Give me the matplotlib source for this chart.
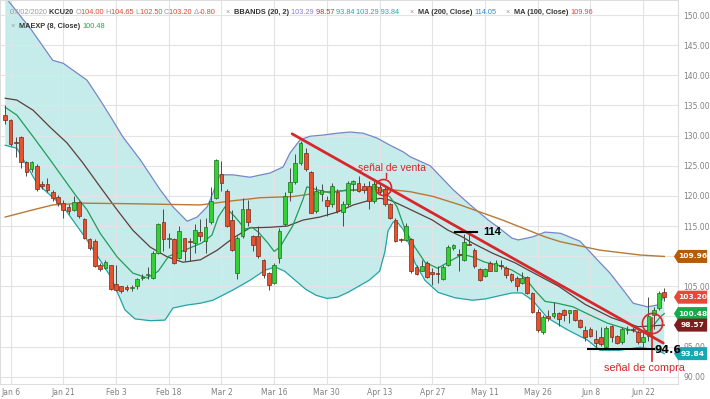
import matplotlib
matplotlib.use("Agg")
import matplotlib.pyplot as plt
import matplotlib.transforms as mtransforms
from matplotlib.patches import Polygon
import numpy as np

# --- KCU20 daily candles ---
opens = [133.5, 132.6, 128.9, 129.7, 125.6, 124.4, 125.0, 121.9, 121.9, 120.7,
         119.8, 118.8, 118.2, 117.7, 119.0, 116.1, 112.9, 112.5, 108.5, 108.1,
         108.5, 105.4, 105.0, 104.9, 104.7, 105.0, 106.4, 106.8, 106.4, 110.6,
         115.7, 112.8, 112.8, 109.7, 113.0, 112.6, 112.2, 114.0, 112.6, 115.6,
         119.7, 123.6, 120.8, 116.0, 107.2, 113.3, 117.8, 113.3, 113.3, 109.4,
         107.2, 105.6, 109.7, 115.3, 120.7, 122.3, 125.4, 127.2, 123.9, 117.5,
         120.4, 119.4, 118.6, 120.6, 117.4, 118.6, 121.9, 122.1, 121.6, 121.7,
         119.2, 121.4, 121.1, 118.7, 116.0, 112.8, 112.7, 112.8, 108.2, 107.6,
         108.9, 107.3, 107.2, 106.3, 108.6, 111.3, 110.4, 109.4, 112.1, 111.1,
         107.9, 106.7, 108.9, 107.6, 108.6, 108.0, 107.0, 106.4, 105.6, 106.5,
         103.9, 100.7, 97.4, 100.0, 100.0, 100.6, 101.0, 100.6, 101.0, 99.4,
         97.8, 97.9, 96.3, 96.6, 95.0, 98.5, 96.7, 95.7, 97.7, 98.0,
         97.4, 95.7, 96.8, 100.2, 101.4, 104.0]
highs = [135.0, 132.8, 129.7, 130.0, 125.8, 125.8, 125.3, 122.5, 122.9, 121.0,
         120.1, 119.4, 118.6, 120.0, 119.2, 116.4, 113.0, 112.8, 108.9, 109.4,
         108.6, 108.6, 105.1, 105.3, 105.2, 106.4, 107.0, 108.2, 110.8, 115.5,
         117.8, 113.9, 113.1, 115.0, 113.1, 113.1, 115.3, 116.1, 116.4, 121.4,
         126.1, 125.8, 121.1, 117.6, 113.3, 119.7, 119.3, 113.5, 115.0, 109.6,
         107.4, 108.8, 114.7, 120.6, 124.7, 127.0, 129.1, 128.0, 124.1, 121.7,
         121.9, 120.0, 122.1, 121.1, 119.2, 122.5, 122.6, 123.3, 122.2, 122.5,
         122.5, 121.9, 121.4, 118.9, 116.3, 113.1, 115.5, 113.1, 108.6, 109.4,
         109.2, 108.1, 108.4, 108.6, 111.9, 112.0, 111.2, 113.7, 113.9, 111.3,
         108.1, 108.1, 109.2, 109.4, 109.4, 108.3, 107.2, 106.7, 107.3, 106.7,
         104.1, 101.3, 100.2, 101.0, 102.4, 100.8, 101.3, 101.1, 101.1, 99.6,
         98.5, 98.2, 97.7, 98.2, 98.4, 98.6, 96.9, 98.2, 98.5, 98.3,
         97.7, 97.7, 103.2, 101.6, 104.3, 104.65]
lows = [131.9, 128.3, 126.4, 124.7, 123.3, 124.0, 120.8, 121.1, 120.6, 119.2,
        118.3, 116.4, 117.0, 117.5, 116.4, 112.8, 111.1, 108.2, 107.5, 107.8,
        104.4, 104.2, 103.9, 104.2, 104.3, 104.6, 106.0, 106.3, 106.2, 110.3,
        110.8, 111.4, 108.7, 109.6, 109.2, 109.2, 110.6, 112.5, 110.6, 115.3,
        119.5, 120.8, 114.8, 110.8, 106.3, 113.0, 115.0, 110.8, 109.7, 106.4,
        104.4, 105.4, 108.9, 115.0, 119.2, 121.9, 125.2, 124.2, 117.1, 117.2,
        119.2, 116.7, 118.2, 117.2, 115.0, 118.3, 120.8, 120.7, 120.5, 117.8,
        118.9, 120.3, 118.3, 116.1, 112.4, 112.3, 112.5, 107.2, 106.9, 107.5,
        106.4, 105.3, 105.6, 106.1, 108.3, 111.1, 107.5, 109.2, 111.8, 108.1,
        105.9, 106.5, 107.5, 107.5, 107.8, 106.4, 105.8, 104.2, 105.4, 103.7,
        100.5, 97.5, 97.1, 99.3, 99.8, 98.5, 99.3, 99.0, 99.3, 98.1,
        95.9, 96.6, 94.7, 95.1, 94.8, 95.8, 95.4, 95.5, 97.1, 97.5,
        95.4, 94.9, 96.0, 98.0, 101.0, 102.5]
closes = [132.6, 128.6, 128.8, 125.6, 123.9, 125.6, 121.1, 121.6, 120.9, 119.6,
          118.8, 117.6, 117.5, 119.0, 116.6, 113.1, 111.4, 108.4, 107.8, 109.1,
          104.6, 104.4, 104.2, 104.5, 104.9, 106.2, 106.6, 107.1, 110.6, 115.3,
          112.8, 113.1, 108.9, 114.2, 110.8, 112.4, 114.4, 113.3, 114.8, 119.2,
          125.9, 122.2, 115.0, 111.1, 113.1, 117.9, 115.6, 111.9, 110.0, 106.9,
          105.3, 108.6, 114.2, 120.0, 122.3, 125.4, 128.7, 124.4, 117.2, 120.8,
          120.9, 118.3, 121.7, 117.5, 118.7, 122.2, 122.4, 120.8, 120.9, 119.2,
          122.0, 120.6, 118.6, 116.4, 112.6, 112.7, 115.0, 107.5, 107.1, 108.4,
          106.5, 107.1, 107.0, 108.2, 111.5, 111.8, 110.2, 112.4, 111.9, 108.3,
          106.1, 107.8, 107.6, 108.8, 108.3, 106.8, 106.1, 105.0, 106.4, 103.9,
          100.7, 97.8, 99.9, 99.7, 100.6, 99.6, 100.3, 101.0, 99.4, 98.2,
          96.6, 96.8, 95.6, 95.4, 98.1, 96.6, 95.6, 97.9, 98.0, 97.8,
          95.7, 96.6, 100.1, 101.0, 103.9, 103.2]

# --- indicator lines (at candle positions) ---
bb_up_x = [0, 5, 9, 11, 15.5, 18, 20, 22.3, 25.6, 29.4, 31.8, 34.5, 36.4, 38.3,
           39.4, 40.7, 43.2, 46.4, 50.2, 52.7, 54, 55.9, 57.8, 60.3, 62.9, 65.4,
           67.9, 70.5, 73, 75.5, 76.8, 80.6, 85, 88.2, 91.6, 93.5, 96.1, 97.3,
           100, 102.4, 105.3, 109, 112.3, 114.7, 117.2, 119.1, 121.8, 123.7, 125]
bb_up_y = [153, 147.5, 142.5, 142, 139.2, 135.9, 133.1, 129.8, 126, 121, 118.2,
           115.8, 116.5, 118.2, 120.5, 123.5, 123.5, 123.1, 123.8, 124.8, 127.1,
           129.3, 129.9, 130.1, 130.4, 130.6, 130.4, 129.6, 128.4, 127.3, 126.5,
           125, 121, 118.5, 116, 114.8, 113, 112.7, 113.2, 114, 113.8, 112.5,
           109.4, 107.2, 104.4, 102.2, 101.6, 101.9, 103.3]
bb_lo_x = [0, 2.2, 6, 11, 15.5, 20, 22.7, 24.6, 27.5, 30.3, 31.8, 34.5, 37,
           39.4, 43.2, 46.4, 49.3, 51.2, 53, 55, 57, 59, 61, 63, 65, 67, 69,
           71, 72, 72.6, 73.6, 74.5, 75.5, 76.8, 77.7, 79.6, 82.1, 85.3, 88.6,
           91, 93.5, 96.1, 98, 100, 102.8, 106.6, 110.4, 112.8, 116.5, 120.4,
           123.7, 125]
bb_lo_y = [128.4, 127.9, 122.1, 118.2, 112.7, 106.6, 101.1, 99.6, 99.3, 99.4,
           101.4, 101.9, 102.2, 102.7, 104.4, 106, 107.7, 108.2, 107.5, 106,
           104.5, 103.5, 103, 103.2, 104, 105, 106, 107.5, 110.7, 114.2, 115.7,
           115.5, 114.4, 111.5, 108.9, 106, 104, 103.1, 102.7, 102.9, 103.4,
           103.9, 103.9, 102.7, 99.8, 97.8, 96.1, 94.4, 94.4, 94.9, 94.4, 93.84]
bb_mid_x = [0, 2.2, 5.3, 8.5, 11.7, 14.7, 18, 21.2, 24.2, 27.5, 30.7, 33.7, 37,
            40.2, 43.2, 46.4, 50.2, 53.5, 56.5, 59.7, 62.9, 66, 69.2, 71.1, 73,
            75.5, 81, 84, 86.7, 88.6, 92.4, 96.7, 99.2, 105, 110, 115, 120, 125]
bb_mid_y = [136.2, 135.9, 134.2, 131.4, 128.8, 125.5, 121.5, 117.7, 114.3,
            111.5, 109.9, 109, 109.4, 111, 113, 114.7, 114.8, 115, 116, 116.5,
            117.3, 118.5, 119.3, 119.6, 119.3, 118.3, 116, 114.3, 113.2, 112.2,
            110.5, 108.9, 107.7, 105, 102, 99.8, 98.3, 98.57]
ema_x = [0, 2.2, 5.3, 8.5, 11.7, 13.6, 15.5, 18, 21.2, 24.2, 26.9, 29, 31, 34,
         37.3, 39.2, 40.4, 41.7, 43.6, 45.5, 46.8, 48, 49.8, 51, 52.1, 54.5,
         56.5, 57.2, 59.2, 61.6, 64.8, 67.9, 70.5, 73, 74.3, 75.8, 77.7, 79.6,
         82, 84.8, 86.7, 88.6, 91, 93.5, 96.1, 98.6, 100.5, 102.4, 104.7,
         107.7, 111, 114.2, 117.2, 120.4, 122.3, 124.2, 125]
ema_y = [134.7, 133.4, 129.8, 126, 122.1, 119.8, 117.7, 113.8, 109.9, 107.2,
         106.4, 107.5, 110, 111, 112.2, 113.5, 116.5, 118.2, 116.5, 114.5,
         114.8, 114, 112.2, 110.8, 111.5, 115, 119.5, 121.5, 121, 120.5, 121,
         121, 121.5, 119.8, 118.2, 114.5, 111.5, 109, 108, 109.4, 110.3, 109.9,
         109, 108.5, 107.7, 106.4, 104.3, 102.5, 102.2, 101.6, 100.2, 98.9,
         98.1, 97.3, 97.8, 99.9, 100.48]
ma100_x = [0, 5.3, 9, 14.7, 24.2, 37, 43.2, 46.4, 48.3, 54.6, 61, 67.3, 73.6,
           76.8, 81.2, 86.3, 94.3, 102.4, 105.3, 112.8, 120.4, 125]
ma100_y = [116.5, 117.7, 118.5, 118.8, 118.7, 118.5, 119.2, 119.5, 119.7,
           119.9, 120.7, 121, 121, 120.7, 119.9, 118.5, 116, 113.2, 112.4, 111,
           110.2, 109.96]

tick_labels = ["Jan 6", "Jan 21", "Feb 3", "Feb 18", "Mar 2", "Mar 16", "Mar 30",
               "Apr 13", "Apr 27", "May 11", "May 26", "Jun 8", "Jun 22"]
price_ticks = [90, 95, 100, 105, 110, 115, 120, 125, 130, 135, 140, 145, 150]
hidden_ticks = [100, 110]   # covered by the price tags in the original
tags = [(109.96, "#b35c0a"), (103.20, "#e8473b"), (100.48, "#1aa84b"),
        (98.57, "#7d1d1d"), (93.84, "#19a8b3")]

# trend line and marked levels
trend_x = [54.4, 124.8]
trend_y = [130.3, 95.6]

W, H = 710, 399
fig = plt.figure(figsize=(W / 100, H / 100), dpi=100)
ax = fig.add_axes([0, 1 - 384 / H, 678 / W, 384 / H])
ax.set_xlim(-1.0, 127.6)
ax.set_ylim(88.8, 152.5)

# grid
ax.set_axisbelow(True)
ax.grid(True, color="#e3e3e3", lw=0.8)
for s in ax.spines.values():
    s.set_color("#dddddd")
    s.set_linewidth(0.8)

# bollinger fill
ax.fill(np.r_[bb_up_x, bb_lo_x[::-1]], np.r_[bb_up_y, bb_lo_y[::-1]],
        color="#c6ebeb", lw=0, zorder=0.3)
ax.plot(bb_up_x, bb_up_y, color="#7886c8", lw=0.9, zorder=2)
ax.plot(bb_lo_x, bb_lo_y, color="#22a3a3", lw=0.9, zorder=2)
ax.plot(bb_mid_x, bb_mid_y, color="#5b3f3c", lw=0.9, zorder=2)
ax.plot(ma100_x, ma100_y, color="#b57a35", lw=1.0, zorder=2)
ax.plot(ema_x, ema_y, color="#1e9e58", lw=0.9, zorder=2)

# candles
o = np.array(opens); c = np.array(closes)
hi = np.array(highs); lo = np.array(lows)
xs = np.arange(len(o))
up = c >= o
ax.vlines(xs, lo, hi, color="#4a4a4a", lw=0.7, zorder=3)
body_lo = np.minimum(o, c)
body_h = np.maximum(np.abs(c - o), 0.15)
ax.bar(xs[up], body_h[up], bottom=body_lo[up], width=0.7,
       color="#33d133", edgecolor="#1c6e1c", lw=0.5, zorder=4)
ax.bar(xs[~up], body_h[~up], bottom=body_lo[~up], width=0.7,
       color="#e4522f", edgecolor="#7e2614", lw=0.5, zorder=4)

# annotations
red = "#d8262b"
ax.plot(trend_x, trend_y, color=red, lw=2.0, zorder=5, solid_capstyle="round")
ax.plot([71.7], [121.5], "o", ms=11.5, mfc="none", mec=red, mew=1.2, zorder=6)
ax.plot([72.3, 72.3], [123.8, 122.9], color=red, lw=1.0, zorder=6)
ax.text(73.4, 124.6, "señal de venta", color=red, fontsize=7.5,
        family="Liberation Sans", ha="center", va="center", zorder=7)
ax.plot([122.7], [98.9], "o", ms=14.5, mfc="none", mec=red, mew=1.2, zorder=6)
ax.plot([122.7, 122.7], [99.8, 92.6], color=red, lw=1.2, zorder=6)
ax.text(121.3, 91.5, "señal de compra", color=red, fontsize=7.8,
        family="Liberation Sans", ha="center", va="center", zorder=7)
ax.plot([85.3, 89.5], [114.0, 114.0], color="black", lw=1.5, zorder=6)
ax.text(90.6, 114.0, "114", color="black", fontsize=8, fontweight="bold",
        family="Liberation Sans", ha="left", va="center", zorder=7)
ax.plot([110.5, 123.0], [94.6, 94.6], color="black", lw=1.5, zorder=6)
ax.text(123.2, 94.5, "94.6", color="black", fontsize=7.8, fontweight="bold",
        family="Liberation Sans Narrow", ha="left", va="center", zorder=10,
        clip_on=False)

# axes ticks
ax.set_xticks(range(1, 122, 10))
ax.set_xticklabels(tick_labels)
ax.set_yticks(price_ticks)
ax.set_yticklabels(["" if v in hidden_ticks else f"{v:.2f}" for v in price_ticks])
ax.yaxis.tick_right()
ax.tick_params(axis="both", length=0, labelsize=5.5, colors="#808080")
ax.tick_params(axis="y", pad=4)
ax.tick_params(axis="x", pad=3)

# price tags on the right axis
tr = mtransforms.blended_transform_factory(ax.transAxes, ax.transData)
for v, col in tags:
    poly = Polygon([(0.994, v), (1.0, v + 1.08), (1.043, v + 1.08),
                    (1.043, v - 1.08), (1.0, v - 1.08)], closed=True,
                   transform=tr, facecolor=col, edgecolor="none",
                   clip_on=False, zorder=8)
    ax.add_patch(poly)
    ax.text(1.022, v, f"{v:.2f}", transform=tr, color="white", fontsize=5.4,
            fontweight="bold", ha="center", va="center", zorder=9,
            clip_on=False)

# header legend (multicoloured)
fig.canvas.draw()
renderer = fig.canvas.get_renderer()
ident = mtransforms.IdentityTransform()


def rich_line(x, y, parts, size=5.3):
    for s, col, bold in parts:
        t = fig.text(x, H - y, s, color=col, fontsize=size,
                     fontweight="bold" if bold else "normal",
                     family="Liberation Sans", transform=ident, va="center")
        x += t.get_window_extent(renderer).width


gray, dark, pr = "#9a9a9a", "#333333", "#e0463a"
rich_line(10, 13, [("07/02/2020 ", gray, False), ("KCU20 ", dark, True),
                   ("O", gray, False), ("104.00 ", pr, False),
                   ("H", gray, False), ("104.65 ", pr, False),
                   ("L", gray, False), ("102.50 ", pr, False),
                   ("C", gray, False), ("103.20 ", pr, False),
                   ("Δ", gray, False), ("-0.80", pr, False),
                   ("     ×  ", gray, False), ("BBANDS (20, 2) ", dark, True),
                   ("103.29 ", "#8c7fd0", False), ("98.57 ", "#b0382c", False),
                   ("93.84 ", "#22a6a0", False), ("103.29 93.84", "#22a6a6", False),
                   ("     ×  ", gray, False), ("MA (200, Close) ", dark, True),
                   ("114.05", "#2e86de", False),
                   ("     ×  ", gray, False), ("MA (100, Close) ", dark, True),
                   ("109.96", pr, False)])
rich_line(11, 27, [("×  ", gray, False), ("MAEXP (8, Close) ", dark, True),
                   ("100.48", "#1aa84b", False)])

fig.savefig("out.png", dpi=100)
